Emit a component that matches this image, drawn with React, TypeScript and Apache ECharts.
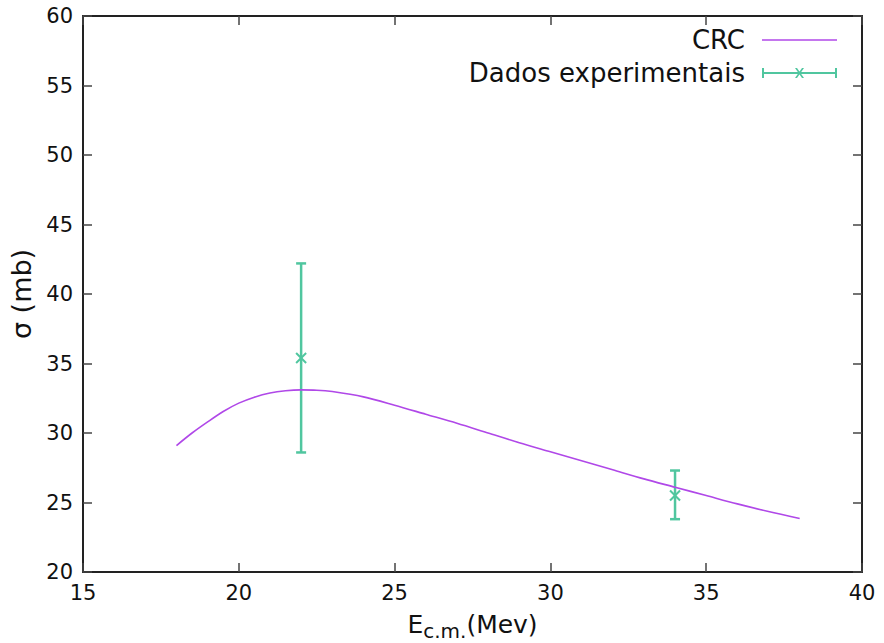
import React, { useEffect, useRef } from "react";
import * as echarts from "echarts";

// CRC calculation (curve)
const crcX = [18, 18.5, 19, 19.5, 20, 20.5, 21, 21.5, 22, 22.5, 23, 24, 25, 26, 27, 28, 29, 30, 31, 32, 33, 34, 35, 36, 37, 38];
const crcY = [29.1, 30.0, 30.8, 31.55, 32.15, 32.58, 32.88, 33.04, 33.1, 33.08, 32.98, 32.6, 32.0, 31.35, 30.7, 30.0, 29.3, 28.65, 28.0, 27.35, 26.7, 26.1, 25.5, 24.9, 24.35, 23.85];

// Experimental data with error bars
const expX = [22, 34];
const expY = [35.4, 25.5];
const expLow = [28.6, 23.8];
const expHigh = [42.2, 27.3];

const xTicks = { min: 15, max: 40, interval: 5 };
const yTicks = { min: 20, max: 60, interval: 5 };

const PURPLE = "#b048e8";
const GREEN = "#50c69f";
const FONT = "DejaVu Sans";

const crcIcon = "path://M0 0H75V1.6H0Z";
const errIcon =
  "path://M0 0H2V10H0Z M73 0H75V10H73Z M0 4H75V6H0Z M33 0L35 0L42 10L40 10Z M40 0L42 0L35 10L33 10Z";

export default function App() {
  const ref = useRef<HTMLDivElement>(null);
  useEffect(() => {
    if (!ref.current) return;
    const chart = echarts.init(ref.current, undefined, { renderer: "svg" });
    const axisLine = { show: true, lineStyle: { color: "#222", width: 2 } };
    const axisTick = { show: true, inside: true, length: 9, lineStyle: { color: "#444", width: 1.5 } };
    chart.setOption({
      animation: false,
      backgroundColor: "#fff",
      textStyle: { fontFamily: FONT },
      grid: { left: 83, right: 22, top: 16, bottom: 71, containLabel: false, outerBoundsMode: "none" },
      legend: {
        orient: "vertical",
        right: 42,
        top: 22,
        align: "right",
        itemWidth: 75,
        itemHeight: 10,
        itemGap: 7,
        selectedMode: false,
        textStyle: { fontFamily: FONT, fontSize: 26, lineHeight: 26, color: "#111", padding: [0, 12, 0, 0] },
        data: [
          { name: "CRC", icon: crcIcon },
          { name: "Dados experimentais", icon: errIcon },
        ],
      },
      xAxis: [
        {
          type: "value",
          ...xTicks,
          position: "bottom",
          axisLine,
          axisTick,
          splitLine: { show: false },
          axisLabel: { fontFamily: FONT, fontSize: 21, color: "#111", margin: 10 },
          name: "{e|E}{s|c.m.}{e|(Mev)}",
          nameLocation: "middle",
          nameGap: 40,
          nameTextStyle: {
            rich: {
              e: { fontFamily: FONT, fontSize: 25, lineHeight: 26, verticalAlign: "top", color: "#111" },
              s: { fontFamily: FONT, fontSize: 20, lineHeight: 22, verticalAlign: "top", padding: [9, 0, 0, 0], color: "#111" },
            },
          },
        },
        {
          type: "value",
          ...xTicks,
          position: "top",
          axisLine,
          axisTick,
          splitLine: { show: false },
          axisLabel: { show: false },
        },
      ],
      yAxis: [
        {
          type: "value",
          ...yTicks,
          position: "left",
          axisLine,
          axisTick,
          splitLine: { show: false },
          axisLabel: { fontFamily: FONT, fontSize: 21, color: "#111", margin: 10 },
          name: "σ (mb)",
          nameLocation: "middle",
          nameGap: 48,
          nameTextStyle: { fontFamily: FONT, fontSize: 27, color: "#111" },
        },
        {
          type: "value",
          ...yTicks,
          position: "right",
          axisLine,
          axisTick,
          splitLine: { show: false },
          axisLabel: { show: false },
        },
      ],
      series: [
        {
          name: "CRC",
          type: "line",
          xAxisIndex: 0,
          yAxisIndex: 0,
          data: crcX.map((x, i) => [x, crcY[i]]),
          smooth: 0.3,
          showSymbol: false,
          symbol: "none",
          lineStyle: { color: PURPLE, width: 1.6 },
          itemStyle: { color: PURPLE },
          silent: true,
        },
        {
          name: "Dados experimentais",
          type: "custom",
          xAxisIndex: 0,
          yAxisIndex: 0,
          itemStyle: { color: GREEN },
          data: expX.map((x, i) => [x, expY[i], expLow[i], expHigh[i]]),
          encode: { x: 0, y: [1, 2, 3] },
          renderItem: (params: any, api: any) => {
            const x = api.value(0);
            const c = api.coord([x, api.value(1)]);
            const lo = api.coord([x, api.value(2)]);
            const hi = api.coord([x, api.value(3)]);
            const cap = 5;
            const m = 5;
            const st = { stroke: GREEN, lineWidth: 2.5, fill: "none" };
            return {
              type: "group",
              children: [
                { type: "line", shape: { x1: lo[0], y1: lo[1], x2: hi[0], y2: hi[1] }, style: st },
                { type: "line", shape: { x1: lo[0] - cap, y1: lo[1], x2: lo[0] + cap, y2: lo[1] }, style: st },
                { type: "line", shape: { x1: hi[0] - cap, y1: hi[1], x2: hi[0] + cap, y2: hi[1] }, style: st },
                { type: "line", shape: { x1: c[0] - m, y1: c[1] - m, x2: c[0] + m, y2: c[1] + m }, style: { ...st, lineWidth: 2 } },
                { type: "line", shape: { x1: c[0] - m, y1: c[1] + m, x2: c[0] + m, y2: c[1] - m }, style: { ...st, lineWidth: 2 } },
              ],
            };
          },
        },
      ],
    });
    return () => chart.dispose();
  }, []);
  return <div ref={ref} style={{ width: 884, height: 643, position: "absolute", left: 0, top: 0 }} />;
}
